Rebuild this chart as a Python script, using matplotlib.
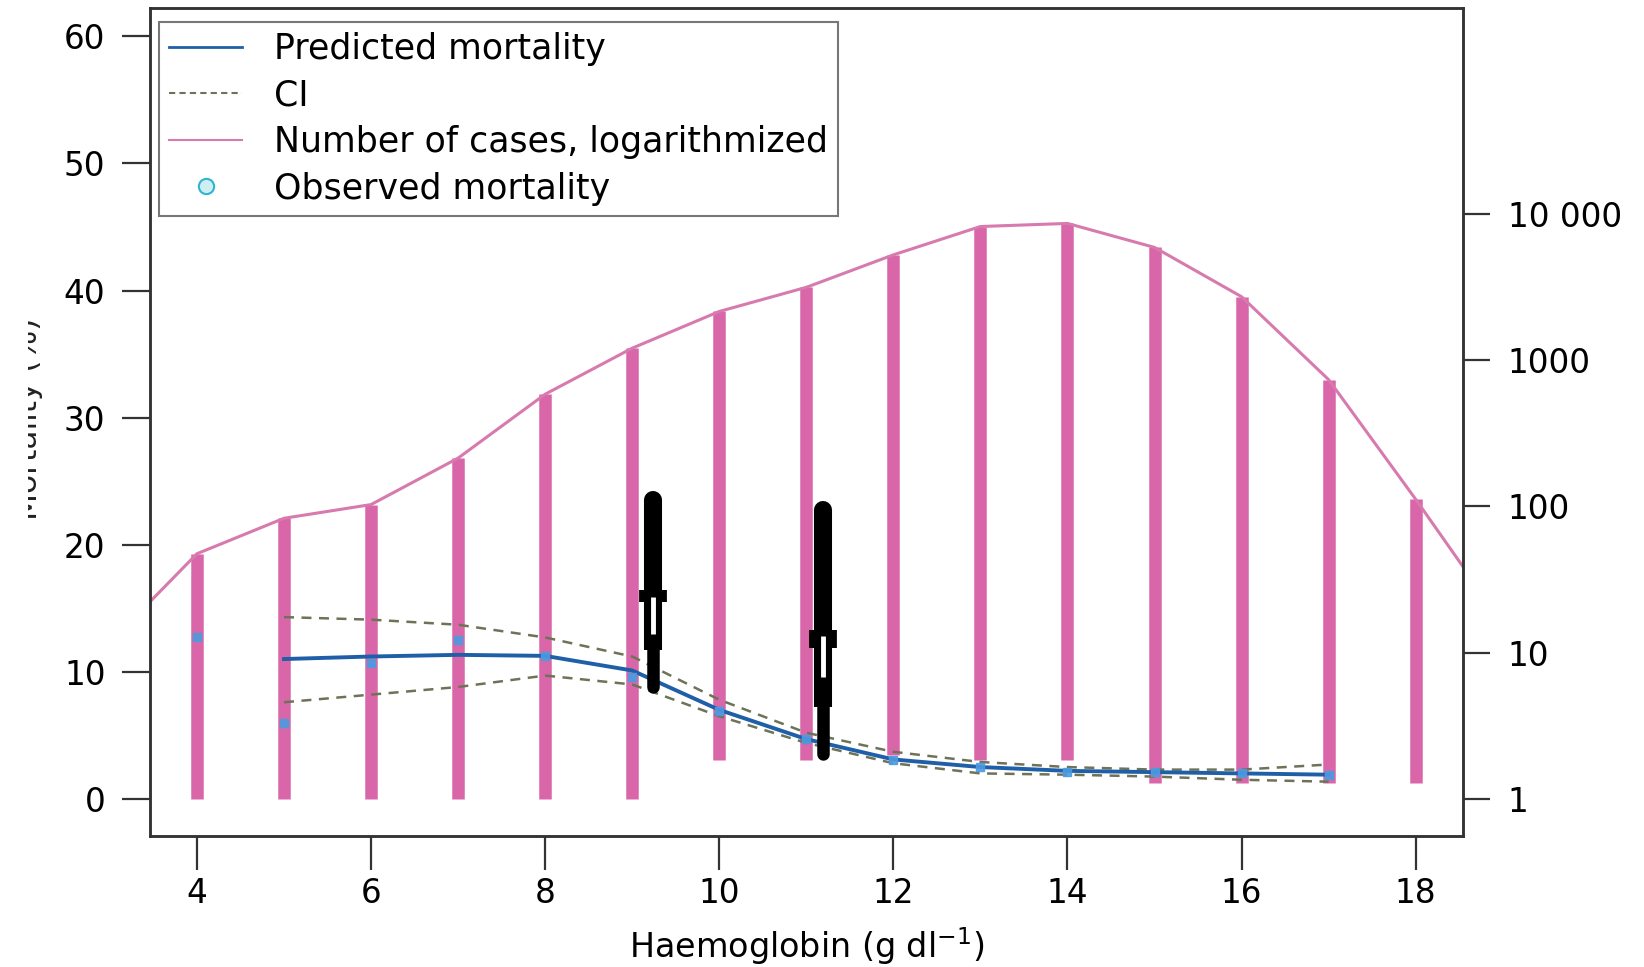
import matplotlib
matplotlib.use("Agg")
import matplotlib.pyplot as plt
from matplotlib.lines import Line2D
from matplotlib.patches import Rectangle

plt.rcParams['font.family'] = ['DejaVu Sans']

# ---- data ----
hb = [4, 5, 6, 7, 8, 9, 10, 11, 12, 13, 14, 15, 16, 17, 18]
cases = [47.5, 83, 103, 214, 585, 1208, 2153, 3148, 5248, 8200, 8610, 5902, 2716, 736, 112]
bar_base = [1, 1, 1, 1, 1, 1, 1.85, 1.85, 2.0, 1.85, 1.85, 1.28, 1.28, 1.28, 1.28]
line_hb = [3, 4, 5, 6, 7, 8, 9, 10, 11, 12, 13, 14, 15, 16, 17, 18, 19]
line_cases = [11.7, 47.5, 83, 103, 214, 585, 1208, 2153, 3148, 5248, 8200, 8610, 5902, 2716, 736, 112, 15.9]

pred_hb = [5, 6, 7, 8, 9, 10, 11, 12, 13, 14, 15, 16, 17]
pred = [11.0, 11.2, 11.33, 11.25, 10.1, 7.0, 4.7, 3.1, 2.5, 2.2, 2.1, 2.0, 1.9]
ci_up = [14.3, 14.1, 13.7, 12.7, 11.2, 7.8, 5.2, 3.7, 2.9, 2.5, 2.3, 2.3, 2.7]
ci_lo = [7.6, 8.2, 8.8, 9.7, 9.0, 6.5, 4.4, 2.8, 2.0, 1.9, 1.75, 1.5, 1.35]
obs_hb = [4, 5, 6, 7, 8, 9, 10, 11, 12, 13, 14, 15, 16, 17]
obs = [12.7, 6.0, 10.7, 12.5, 11.25, 9.6, 6.9, 4.7, 3.07, 2.5, 2.15, 2.15, 2.0, 1.9]

# annotation arrows: x, top, collar_top, collar_bottom, mid, tip, slot_top, slot_bottom
arrows = [
    (9.24, 23.5, 16.45, 15.5, 11.7, 8.8, 15.9, 13.0),
    (11.19, 22.7, 13.3, 11.9, 7.26, 3.5, 12.8, 9.6),
]

pink = '#D966A8'
pink_line = '#D77AAE'
blue = '#1E5FA8'
obs_col = '#4C9BE0'
ci_col = '#6E7358'
dark = '#333333'

fig = plt.figure(figsize=(16.44, 9.67), dpi=100)
ax = fig.add_axes([0.0912, 0.1358, 0.7985, 0.8555])
ax2 = ax.twinx()

ax.set_xlim(3.46, 18.54)
ax.set_ylim(-2.9, 62.2)
ax2.set_yscale('log')
ax2.set_ylim(10 ** -0.251, 10 ** 5.405)

# bars and case line (right axis)
ax2.vlines(hb, bar_base, cases, colors=pink, lw=9, zorder=1)
ax2.plot(line_hb, line_cases, color=pink_line, lw=2.2, zorder=2)

# mortality (left axis) drawn on top
ax.set_zorder(ax2.get_zorder() + 1)
ax.patch.set_visible(False)
ax.plot(pred_hb, ci_up, ls=(0, (4, 3)), color=ci_col, lw=1.8, zorder=3)
ax.plot(pred_hb, ci_lo, ls=(0, (4, 3)), color=ci_col, lw=1.8, zorder=3)
ax.plot(pred_hb, pred, color=blue, lw=2.8, zorder=4)
ax.plot(obs_hb, obs, ls='none', marker='s', ms=6, color=obs_col, mec=obs_col, zorder=5, alpha=0.9)

# black arrow annotations
for (x, top, ct, cb, mid, tip, st, sb) in arrows:
    ax.plot([x, x], [top, ct], color='black', lw=13, solid_capstyle='round', zorder=6)
    ax.plot([x, x], [ct, cb], color='black', lw=20, solid_capstyle='butt', zorder=6)
    ax.plot([x, x], [cb, mid], color='black', lw=13, solid_capstyle='butt', zorder=6)
    ax.plot([x, x], [mid, tip], color='black', lw=9, solid_capstyle='round', zorder=6)
    ax.plot([x, x], [st, sb], color='white', lw=3.5, solid_capstyle='butt', zorder=7)

# ticks
ax.set_xticks([4, 6, 8, 10, 12, 14, 16, 18])
ax.set_yticks([0, 10, 20, 30, 40, 50, 60])
ax2.set_yticks([1, 10, 100, 1000, 10000])
ax2.set_yticklabels(['1', '10', '100', '1000', '10 000'])
ax2.yaxis.set_minor_locator(matplotlib.ticker.NullLocator())
ax.tick_params(axis='y', direction='out', length=20, width=1.6, labelsize=23.5, color=dark, pad=12)
ax.tick_params(axis='x', direction='out', length=24.5, width=1.6, labelsize=23.5, color=dark, pad=5)
ax2.tick_params(axis='y', direction='out', length=19.5, width=1.6, labelsize=23.5, color=dark, pad=13)
for a in (ax, ax2):
    for s in a.spines.values():
        s.set_linewidth(1.8)
        s.set_color(dark)

ax.set_xlabel('Haemoglobin (g dl$^{-1}$)', fontsize=24, labelpad=11)

# y label, partially hidden at the left edge as in the source
fig.text(37 / 1644, 0.567, 'Mortality (%)', rotation=90, rotation_mode='anchor',
         ha='center', va='baseline', fontsize=22.5, color='#222222', zorder=1)
fig.add_artist(Rectangle((0, 0), 28 / 1644, 1, transform=fig.transFigure,
                         facecolor='white', edgecolor='none', zorder=5))

handles = [
    Line2D([], [], color=blue, lw=2),
    Line2D([], [], color=ci_col, lw=1.5, ls=(0, (3, 2))),
    Line2D([], [], color=pink_line, lw=1.5),
    Line2D([], [], ls='none', marker='o', ms=11, mfc='#cdeef2', mec='#2fb5d0', mew=1.5),
]
labels = ['Predicted mortality', 'CI', 'Number of cases, logarithmized', 'Observed mortality']
leg = ax.legend(handles, labels, loc='upper left', bbox_to_anchor=(0.0069, 0.984), borderaxespad=0,
                fontsize=25, frameon=True, fancybox=False, edgecolor='#555555', handlelength=2.1,
                labelspacing=0.36, borderpad=0.3, handletextpad=0.9)
leg.get_frame().set_linewidth(1.5)
leg.set_zorder(10)

fig.savefig('out.png', dpi=100)
